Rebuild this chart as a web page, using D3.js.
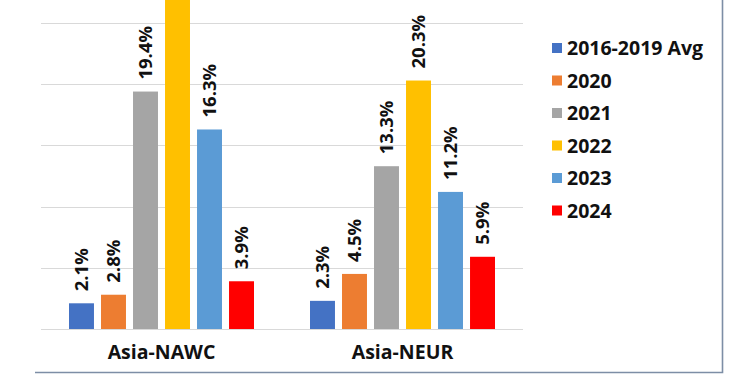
<!DOCTYPE html>
<html>
<head>
<meta charset="utf-8">
<script src="https://cdn.jsdelivr.net/npm/d3@7"></script>
<style>
  body { margin: 0; background: #fff; }
  svg { display: block; }
  text { font-family: "Open Sans", "Noto Sans", sans-serif; font-weight: bold; fill: #111; }
</style>
</head>
<body>
<svg id="chart" width="750" height="375"></svg>
<script>
// data (2022 Asia-NAWC is cut off at the top, estimated)
const routes = ["Asia-NAWC", "Asia-NEUR"];
const series = ["2016-2019 Avg", "2020", "2021", "2022", "2023", "2024"];
const colors = ["#4472c4", "#ed7d31", "#a5a5a5", "#ffc000", "#5b9bd5", "#ff0000"];
const nawc = [2.1, 2.8, 19.4, 29.6, 16.3, 3.9];
const neur = [2.3, 4.5, 13.3, 20.3, 11.2, 5.9];
const gridTicks = [0, 5, 10, 15, 20, 25];

const values = [nawc, neur];
const svg = d3.select("#chart");

// scales
const x0 = d3.scaleBand().domain(routes).range([41, 523]).padding(0);
const x1 = d3.scaleBand().domain(series).range([0, x0.bandwidth()])
  .paddingInner(0.22).paddingOuter(0.875);
const y = d3.scaleLinear().domain([0, 25]).range([329, 23]);
const color = d3.scaleOrdinal().domain(series).range(colors);

// gridlines
svg.append("g")
  .selectAll("line")
  .data(gridTicks)
  .join("line")
  .attr("x1", 41).attr("x2", 523)
  .attr("y1", d => Math.round(y(d)) + 0.5)
  .attr("y2", d => Math.round(y(d)) + 0.5)
  .attr("stroke", "#d9d9d9")
  .attr("stroke-width", 1.2);

// bars + labels
const groups = svg.append("g")
  .selectAll("g")
  .data(routes)
  .join("g")
  .attr("transform", d => `translate(${x0(d)},0)`);

const cells = groups.selectAll("g")
  .data((r, i) => series.map((s, j) => ({ s, v: values[i][j] })))
  .join("g");

cells.append("rect")
  .attr("x", d => x1(d.s))
  .attr("y", d => y(d.v))
  .attr("width", x1.bandwidth())
  .attr("height", d => y(0) - y(d.v))
  .attr("fill", d => color(d.s));

cells.append("text")
  .attr("transform", d => `translate(${x1(d.s) + x1.bandwidth() / 2},${y(d.v) - 12}) rotate(-90)`)
  .attr("dy", "0.35em")
  .attr("font-size", 18.5)
  .text(d => d.v.toFixed(1) + "%");

// category labels
svg.append("g")
  .selectAll("text")
  .data(routes)
  .join("text")
  .attr("x", d => x0(d) + x0.bandwidth() / 2)
  .attr("y", 359)
  .attr("text-anchor", "middle")
  .attr("font-size", 19.5)
  .text(d => d);

// legend
const legend = svg.append("g")
  .selectAll("g")
  .data(series)
  .join("g")
  .attr("transform", (d, i) => `translate(552,${48 + i * 32.5})`);

legend.append("rect")
  .attr("x", 0).attr("y", -5)
  .attr("width", 10).attr("height", 10)
  .attr("fill", d => color(d));

legend.append("text")
  .attr("x", 15)
  .attr("dy", "0.36em")
  .attr("font-size", 19.5)
  .text(d => d);

// chart frame (only bottom and right edges show in the crop)
svg.append("path")
  .attr("d", "M35,372.5H722.5V0")
  .attr("fill", "none")
  .attr("stroke", "#7d8ea6")
  .attr("stroke-width", 1.6);
</script>
</body>
</html>
